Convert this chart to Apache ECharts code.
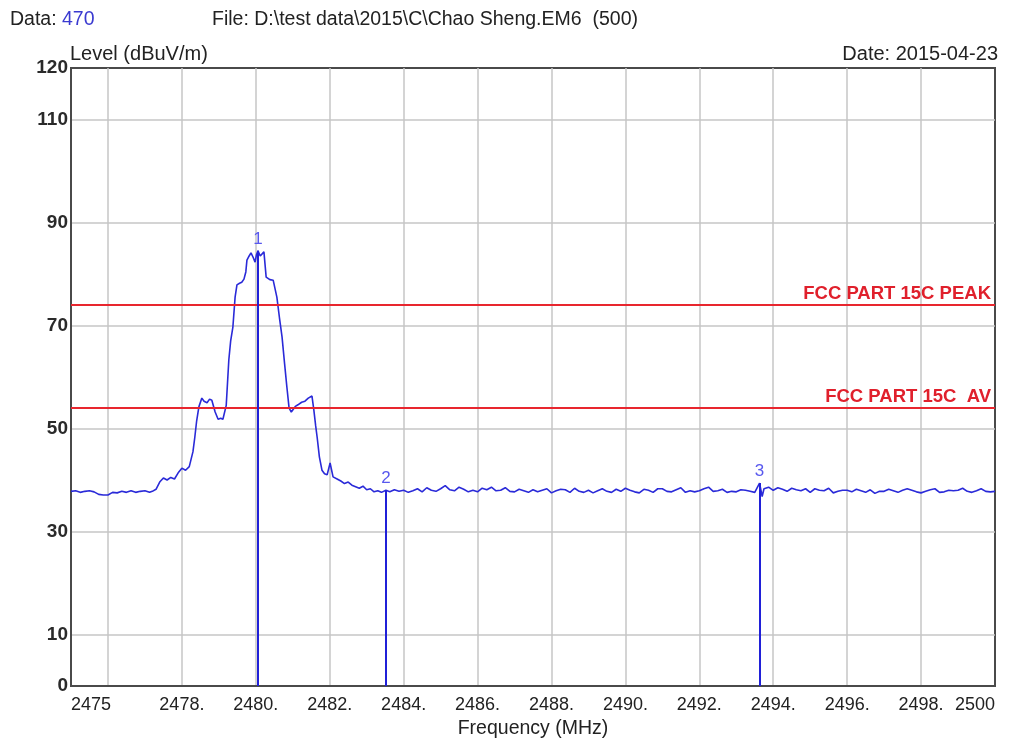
<!DOCTYPE html>
<html>
<head>
<meta charset="utf-8">
<script src="https://cdn.jsdelivr.net/npm/echarts@6/dist/echarts.min.js"></script>
<style>
html,body{margin:0;padding:0;background:#fff;}
#chart{width:1016px;height:738px;}
</style>
</head>
<body>
<div id="chart"></div>
<script>
// ---- data ----
// left noise floor
const freqLeft = [2475,2475.125,2475.25,2475.375,2475.5,2475.625,2475.75,2475.875,2476,2476.125,2476.25,2476.375,2476.5,2476.625,2476.75,2476.875,2477,2477.125];
const levelLeft = [37.8,37.9,37.6,37.8,37.9,37.7,37.2,37.1,37.1,37.6,37.5,37.8,37.6,37.9,37.6,37.8,37.9,37.6];
// emission around 2480 MHz
const freqSignal = [
2477.2,2477.3,2477.4,2477.5,2477.6,2477.7,2477.8,2477.9,2478.0,
2478.1,2478.2,2478.3,2478.35,2478.4,2478.46,2478.54,2478.6,2478.68,2478.75,2478.81,2478.9,2478.98,2479.05,2479.11,2479.2,2479.27,2479.32,2479.38,2479.44,
2479.49,2479.56,2479.62,2479.68,2479.73,2479.76,2479.82,2479.87,2479.93,2479.98,2480.02,2480.06,2480.12,2480.17,2480.22,2480.28,2480.38,2480.47,2480.57,2480.64,
2480.71,2480.78,2480.84,2480.9,2480.96,2481.0,2481.07,2481.14,2481.24,2481.33,2481.42,2481.52,2481.57,2481.62,2481.66,2481.72,2481.79,2481.86,2481.93,2482.01,
2482.09,2482.2,2482.3,2482.4,2482.5,2482.6,2482.7,2482.8,2482.9,2483.0,2483.1,2483.2,2483.3,2483.4,2483.52
];
const levelSignal = [
37.8,38.2,39.6,40.4,40.0,40.5,40.2,41.4,42.3,
41.9,42.6,45.5,48.3,51.5,54.2,55.9,55.3,55.0,55.7,55.5,53.2,51.8,52.0,51.8,54.5,63.3,67.0,69.7,75.5,
77.9,78.2,78.4,79.0,80.4,82.7,83.5,84.1,83.2,82.3,83.8,84.5,83.5,83.7,84.3,79.4,78.9,78.8,75.5,71.5,
67.8,62.5,58.1,54.0,53.2,53.6,54.3,54.6,55.1,55.3,55.9,56.3,53.6,50.5,48.3,44.5,41.9,41.2,41.0,43.3,
40.6,40.2,39.8,39.3,39.6,39.0,38.7,38.4,38.8,38.1,38.3,37.7,37.9,37.6,38.0
];
// right noise floor
const freqRight = [
2483.625,2483.75,2483.875,
2484,2484.125,2484.25,2484.375,2484.5,2484.625,2484.75,2484.875,
2485,2485.125,2485.25,2485.375,2485.5,2485.625,2485.75,2485.875,
2486,2486.125,2486.25,2486.375,2486.5,2486.625,2486.75,2486.875,
2487,2487.125,2487.25,2487.375,2487.5,2487.625,2487.75,2487.875,
2488,2488.125,2488.25,2488.375,2488.5,2488.625,2488.75,2488.875,
2489,2489.125,2489.25,2489.375,2489.5,2489.625,2489.75,2489.875,
2490,2490.125,2490.25,2490.375,2490.5,2490.625,2490.75,2490.875,
2491,2491.125,2491.25,2491.375,2491.5,2491.625,2491.75,2491.875,
2492,2492.125,2492.25,2492.375,2492.5,2492.625,2492.75,2492.875,
2493,2493.125,2493.25,2493.375,2493.5,2493.63,2493.7,2493.75,2493.875,
2494,2494.125,2494.25,2494.375,2494.5,2494.625,2494.75,2494.875,
2495,2495.125,2495.25,2495.375,2495.5,2495.625,2495.75,2495.875,
2496,2496.125,2496.25,2496.375,2496.5,2496.625,2496.75,2496.875,
2497,2497.125,2497.25,2497.375,2497.5,2497.625,2497.75,2497.875,
2498,2498.125,2498.25,2498.375,2498.5,2498.625,2498.75,2498.875,
2499,2499.125,2499.25,2499.375,2499.5,2499.625,2499.75,2499.875,
2500
];
const levelRight = [
37.7,38.1,37.8,
38.0,37.6,37.9,38.3,37.7,38.5,38.0,37.8,
38.3,38.9,38.1,37.9,38.6,38.2,37.7,38.0,
37.7,38.4,38.1,38.6,37.9,38.0,38.5,37.8,
37.7,38.2,37.9,37.6,38.1,37.7,38.0,38.3,
37.5,37.9,38.2,38.1,37.6,38.4,37.8,37.6,
38.0,37.5,37.9,38.3,37.8,37.6,38.2,37.8,
38.4,38.0,37.7,37.5,38.2,38.0,37.6,38.3,
38.3,37.8,37.7,38.1,38.5,37.6,37.9,37.7,
37.9,38.3,38.6,37.8,37.9,38.2,37.6,37.8,
37.7,38.1,38.0,37.8,37.6,39.4,36.8,38.3,38.6,
38.0,38.5,38.2,37.8,38.4,38.1,37.9,38.3,
37.6,38.3,38.0,37.9,38.4,37.5,37.8,38.0,
38.0,37.7,38.2,37.9,37.6,38.1,37.4,37.8,
37.8,38.2,37.9,37.6,38.0,38.3,38.0,37.7,
37.5,37.8,38.1,38.3,37.6,37.7,38.0,37.9,
38.0,38.4,37.8,37.6,37.9,38.3,37.8,37.7,
37.8
];
const markerNames = ['1','2','3'];
const markerFreq = [2480.06, 2483.52, 2493.63];
const markerLevel = [84.5, 38.0, 39.4];
const limitNames = ['FCC PART 15C PEAK', 'FCC PART 15C  AV'];
const limitValues = [74, 54];
const xTickValues = [2475,2478,2480,2482,2484,2486,2488,2490,2492,2494,2496,2498,2500];
const xTickLabels = ['2475','2478.','2480.','2482.','2484.','2486.','2488.','2490.','2492.','2494.','2496.','2498.','2500'];
const xGridValues = [2476,2478,2480,2482,2484,2486,2488,2490,2492,2494,2496,2498];
const yTickValues = [0,10,30,50,70,90,110,120];
const yGridValues = [10,30,50,70,90,110];

const freq = freqLeft.concat(freqSignal, freqRight);
const level = levelLeft.concat(levelSignal, levelRight);

const FONT = '"Liberation Sans", Arial, sans-serif';
const chart = echarts.init(document.getElementById('chart'), null, {renderer:'canvas'});

const markLineData = [];
for (let i = 0; i < limitValues.length; i++) {
  markLineData.push({
    yAxis: limitValues[i],
    lineStyle: {color: '#e8262e', width: 2, type: 'solid'},
    label: {show: true, position: 'insideEndTop', formatter: limitNames[i], color: '#e0202c',
            fontSize: 18.5, fontWeight: 'bold', fontFamily: FONT, distance: [4, 1]}
  });
}
for (let i = 0; i < markerFreq.length; i++) {
  markLineData.push([
    {coord: [markerFreq[i], markerLevel[i]],
     label: {show: true, position: 'start', formatter: markerNames[i], color: '#5858ee',
             fontSize: 17, fontFamily: FONT, distance: 3},
     lineStyle: {color: '#2020d8', width: 2, type: 'solid'}},
    {coord: [markerFreq[i], 0]}
  ]);
}

chart.setOption({
  backgroundColor: '#ffffff',
  animation: false,
  grid: {left: 71, right: 21, top: 68, bottom: 52, show: true, borderColor: '#4a4a4a', borderWidth: 2,
         backgroundColor: '#ffffff', containLabel: false, outerBoundsMode: 'none'},
  graphic: [
    {type: 'text', left: 10, top: 10, style: {text: '{a|Data: }{b|470}', rich: {
      a: {fontSize: 19.5, fontFamily: FONT, fill: '#222'}, b: {fontSize: 19.5, fontFamily: FONT, fill: '#3a3ad0'}}}},
    {type: 'text', left: 212, top: 10, style: {text: 'File: D:\\test data\\2015\\C\\Chao Sheng.EM6  (500)', fontSize: 19.5, fontFamily: FONT, fill: '#222'}},
    {type: 'text', left: 70, top: 44, style: {text: 'Level (dBuV/m)', fontSize: 20, fontFamily: FONT, fill: '#222'}},
    {type: 'text', right: 18, top: 44, style: {text: 'Date: 2015-04-23', fontSize: 20, fontFamily: FONT, fill: '#222'}}
  ],
  xAxis: {
    type: 'value', min: 2475, max: 2500,
    name: 'Frequency (MHz)', nameLocation: 'middle', nameGap: 31,
    nameTextStyle: {fontSize: 19.5, fontFamily: FONT, color: '#222'},
    axisLine: {show: true, lineStyle: {color: '#4a4a4a', width: 2}},
    axisTick: {show: false, customValues: xGridValues},
    axisLabel: {customValues: xTickValues, fontSize: 18, fontFamily: FONT, color: '#222', margin: 10,
      alignMinLabel: 'left', alignMaxLabel: 'right',
      formatter: function (v) { const k = xTickValues.indexOf(v); return k >= 0 ? xTickLabels[k] : ''; }},
    splitLine: {show: true, lineStyle: {color: '#c6c6c6', width: 1.5}}
  },
  yAxis: {
    type: 'value', min: 0, max: 120,
    axisLine: {show: true, lineStyle: {color: '#4a4a4a', width: 2}},
    axisTick: {show: false, customValues: yGridValues},
    axisLabel: {customValues: yTickValues, fontSize: 19, fontWeight: 'bold', fontFamily: FONT, color: '#2a2a2a', margin: 3},
    splitLine: {show: true, lineStyle: {color: '#c6c6c6', width: 1.5}}
  },
  series: [{
    name: 'trace', type: 'line', showSymbol: false, symbol: 'none',
    data: freq.map((f, i) => [f, level[i]]),
    lineStyle: {color: '#2a2ad8', width: 1.6},
    z: 3,
    markLine: {symbol: 'none', silent: true, animation: false, data: markLineData}
  }]
});
</script>
</body>
</html>
